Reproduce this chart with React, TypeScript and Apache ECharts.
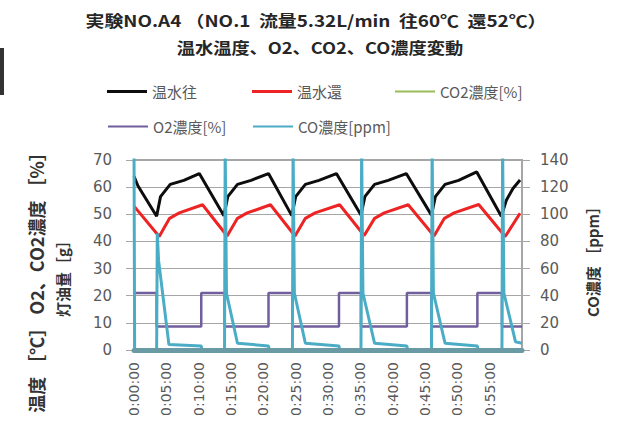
import React, { useEffect, useRef } from "react";
import * as echarts from "echarts";

const titleLine1 = "実験NO.A4 （NO.1  流量5.32L/min  往60℃  還52℃）";
const titleLine2 = "温水温度、O2、CO2、CO濃度変動";
const leftAxisName1 = "温度 ［℃］ O2、CO2濃度 ［%］";
const leftAxisName2 = "灯油量［g］";
const rightAxisName = "CO濃度 ［ppm］";

const nameSupply = "温水往";
const nameReturn = "温水還";
const nameCO2 = "CO2濃度[%]";
const nameO2 = "O2濃度[%]";
const nameCO = "CO濃度[ppm]";

// time in minutes, value
const supplyTemp: [number, number][] = [
  [0, 64], [0.6, 60.5], [3.5, 49.3], [4.1, 56.5], [5.6, 61], [7.7, 62.5], [10.1, 65],
  [13.9, 49.5], [14.5, 56.5], [16, 61], [18.1, 62.5], [20.8, 65],
  [24.4, 49.5], [25, 56.5], [26.5, 61], [28.6, 62.5], [31.3, 65],
  [35.1, 49.7], [35.7, 56.5], [37.2, 61], [39.3, 62.5], [42.1, 65],
  [46.0, 49.7], [46.6, 56.5], [48.1, 61], [50.2, 62.5], [53.0, 65.6],
  [56.8, 49.3], [57.6, 55.3], [58.6, 59.5], [59.7, 62.6],
];
const returnTemp: [number, number][] = [
  [0, 53], [3.9, 41.8], [5.5, 48.5], [7, 50.5], [10.6, 53.5],
  [14.4, 42], [16, 48.5], [17.5, 50.5], [21.1, 53.5],
  [24.9, 42], [26.5, 48.5], [28, 50.5], [31.8, 53.5],
  [35.6, 42.2], [37.2, 48.5], [38.7, 50.5], [42.4, 53.5],
  [46.4, 42], [48, 48.5], [49.5, 50.5], [53.3, 53.6],
  [57.4, 41.8], [59.7, 50.4],
];
const co2Conc: [number, number][] = [
  [0, 0], [60, 0],
];
const o2Conc: [number, number][] = [
  [0, 21], [3.5, 21], [3.5, 8.7], [10.4, 8.7], [10.4, 21],
  [14.0, 21], [14.0, 8.7], [20.8, 8.7], [20.8, 21],
  [24.5, 21], [24.5, 8.7], [31.7, 8.7], [31.7, 21],
  [35.1, 21], [35.1, 8.7], [42.2, 8.7], [42.2, 21],
  [46.0, 21], [46.0, 8.7], [53.1, 8.7], [53.1, 21],
  [56.9, 21], [56.9, 8.7], [60, 8.7],
];
const coConc: [number, number][] = [
  [0, 150], [0.1, 0], [3.5, 0], [3.6, 86], [3.8, 66], [5.4, 4], [10.4, 3], [10.5, 0],
  [14.0, 0], [14.1, 150], [14.3, 42], [16.0, 5], [20.8, 3], [20.9, 0],
  [24.5, 0], [24.6, 150], [24.8, 42], [26.5, 5], [31.7, 3], [31.8, 0],
  [35.1, 0], [35.2, 150], [35.4, 42], [37.2, 5], [42.2, 3], [42.3, 0],
  [46.0, 0], [46.1, 150], [46.3, 42], [48.1, 5], [53.1, 3], [53.2, 0],
  [56.9, 0], [57.0, 150], [57.2, 42], [59.0, 6], [60, 5],
];

const leftMin = 0, leftMax = 70, leftStep = 10;
const rightMin = 0, rightMax = 140, rightStep = 20;
const timeMin = 0, timeMax = 60, timeStep = 5;

const fmtTime = (v: number) => {
  if (v >= 60) return "";
  const m = String(Math.round(v)).padStart(2, "0");
  return `0:${m}:00`;
};

const CJK = "'Noto Sans CJK JP', 'Noto Sans', sans-serif";
const NUM = "'DejaVu Sans', sans-serif";
const GRAY = "#595959";
const GRID = "#a6a6a6";

export default function App() {
  const ref = useRef<HTMLDivElement>(null);
  useEffect(() => {
    if (!ref.current) return;
    const chart = echarts.init(ref.current, undefined, { renderer: "svg" });
    const legendBase = {
      itemWidth: 40,
      icon: "rect",
      padding: 0,
      selectedMode: false,
      textStyle: { fontFamily: CJK, fontSize: 15, color: GRAY },
    };
    const lineSeries = (name: string, data: [number, number][], color: string, width: number, yAxisIndex = 0, z = 2) => ({
      name,
      type: "line",
      data,
      yAxisIndex,
      z,
      symbol: "none",
      lineStyle: { color, width },
      itemStyle: { color },
      clip: true,
    });
    chart.setOption({
      animation: false,
      backgroundColor: "#ffffff",
      legend: [
        { ...legendBase, itemHeight: 3, data: [nameSupply], left: 107, top: 84 },
        { ...legendBase, itemHeight: 3, data: [nameReturn], left: 252, top: 84 },
        { ...legendBase, itemHeight: 2, data: [nameCO2], left: 395, top: 84 },
        { ...legendBase, itemHeight: 2, data: [nameO2], left: 108, top: 119 },
        { ...legendBase, itemHeight: 2, data: [nameCO], left: 253, top: 119 },
      ],
      grid: {
        left: 134, right: 100, top: 160, bottom: 84,
        show: true, borderColor: GRID, borderWidth: 2, backgroundColor: "transparent",
      },
      xAxis: {
        type: "value",
        z: 3,
        min: timeMin, max: timeMax, interval: timeStep,
        axisLine: { show: true, lineStyle: { color: "#6a9aa4", width: 5 } },
        axisTick: { show: false },
        splitLine: { show: false },
        axisLabel: {
          rotate: 90, margin: 12, fontFamily: NUM, fontSize: 14, color: GRAY,
          formatter: fmtTime, showMaxLabel: false,
        },
      },
      yAxis: [
        {
          type: "value", min: leftMin, max: leftMax, interval: leftStep,
          axisLine: { show: true, lineStyle: { color: GRID, width: 1 } },
          axisTick: { show: true, length: 8, lineStyle: { color: GRID } },
          splitLine: { show: true, lineStyle: { color: GRID, width: 1 } },
          axisLabel: { margin: 22, fontFamily: NUM, fontSize: 15, color: GRAY },
        },
        {
          type: "value", min: rightMin, max: rightMax, interval: rightStep,
          position: "right",
          axisLine: { show: true, lineStyle: { color: GRID, width: 1 } },
          axisTick: { show: true, length: 8, lineStyle: { color: GRID } },
          splitLine: { show: false },
          axisLabel: { margin: 18, fontFamily: NUM, fontSize: 15, color: GRAY },
        },
      ],
      series: [
        lineSeries(nameSupply, supplyTemp, "#0d0d0d", 3),
        lineSeries(nameReturn, returnTemp, "#ee2424", 3),
        lineSeries(nameCO2, co2Conc, "#9bbb59", 2, 0, 1),
        lineSeries(nameO2, o2Conc, "#715e9c", 2.5),
        lineSeries(nameCO, coConc, "#4bacc6", 3, 1),
      ],
      graphic: [
        { type: "rect", shape: { x: 0, y: 48, width: 4, height: 47 }, style: { fill: "#333333" } },
        {
          type: "text", x: 316, y: 20, scaleX: 1.18,
          style: { text: titleLine1, fontFamily: CJK, fontSize: 16, fontWeight: "bold", fill: "#262626", align: "center", verticalAlign: "middle" },
        },
        {
          type: "text", x: 320, y: 47, scaleX: 1.14,
          style: { text: titleLine2, fontFamily: CJK, fontSize: 16, fontWeight: "bold", fill: "#262626", align: "center", verticalAlign: "middle" },
        },
        {
          type: "text", x: 36, y: 278, rotation: Math.PI / 2,
          style: { text: leftAxisName1, fontFamily: CJK, fontSize: 18, fontWeight: "bold", fill: "#333333", align: "center", verticalAlign: "middle" },
        },
        {
          type: "text", x: 62, y: 275, rotation: Math.PI / 2,
          style: { text: leftAxisName2, fontFamily: CJK, fontSize: 15, fontWeight: "bold", fill: "#333333", align: "center", verticalAlign: "middle" },
        },
        {
          type: "text", x: 592, y: 258, rotation: Math.PI / 2,
          style: { text: rightAxisName, fontFamily: CJK, fontSize: 15, fontWeight: "bold", fill: "#333333", align: "center", verticalAlign: "middle" },
        },
      ],
    });
    return () => chart.dispose();
  }, []);
  return <div ref={ref} style={{ position: "fixed", left: 0, top: 0, width: 622, height: 434 }} />;
}
